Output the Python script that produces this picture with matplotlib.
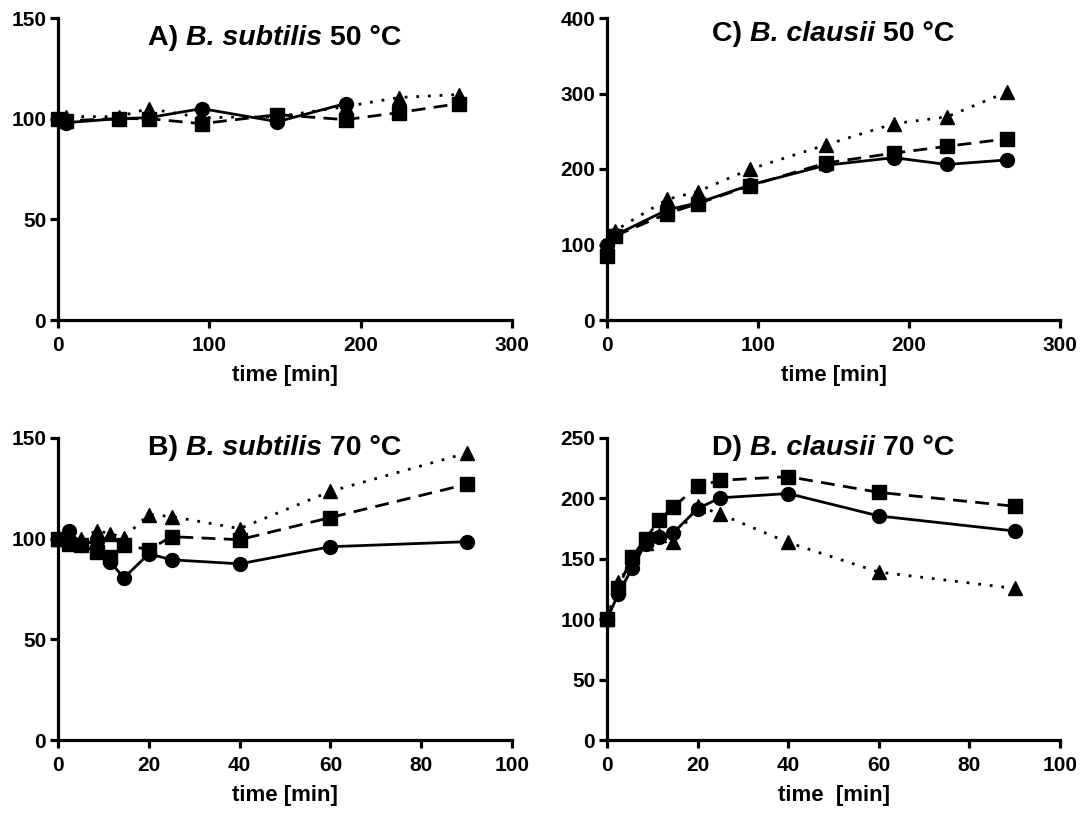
import matplotlib
matplotlib.use("Agg")
import matplotlib.pyplot as plt

plt.rcParams['font.family'] = ['Liberation Sans', 'DejaVu Sans']
plt.rcParams['font.weight'] = 'bold'

# Panel A: B. subtilis 50 °C
t_A = [0, 5, 40, 60, 95, 145, 190, 225, 265]
circ_A = [100, 98, 100, 100.5, 105, 98.5, 107.5]
sq_A = [100, 99, 100, 100, 97.5, 102, 99.5, 103, 107.5]
tri_A = [101, 101, 101, 105, 100.5, 101, 106, 110.5, 112]

# Panel B: B. subtilis 70 °C
t_B = [0, 2.5, 5, 8.5, 11.5, 14.5, 20, 25, 40, 60, 90]
circ_B = [100, 104, 97, 99, 88.5, 80.5, 92.5, 89.5, 87.5, 96, 98.5]
sq_B = [100, 97.5, 96.8, 93.5, 91, 97, 94.5, 101, 99.5, 110.5, 127]
tri_B = [100, 100, 100, 104, 102.5, 100.5, 112, 111, 105, 123.5, 142.5]

# Panel C: B. clausii 50 °C
t_C = [0, 5, 40, 60, 95, 145, 190, 225, 265]
circ_C = [100, 112, 146, 155, 179, 205, 215, 206, 212]
sq_C = [85, 111, 141, 154, 178, 208, 221, 230, 240]
tri_C = [100, 118, 160, 170, 200, 232, 260, 269, 302]

# Panel D: B. clausii 70 °C
t_D = [0, 2.5, 5.5, 8.5, 11.5, 14.5, 20, 25, 40, 60, 90]
circ_D = [100, 121, 142, 162.5, 168, 171, 191.5, 200.5, 204, 185.5, 173]
sq_D = [100, 126, 151.5, 166.5, 182, 192.5, 210, 215, 218, 205, 193.5]
tri_D = [100, 131, 147, 163, 170, 164, 194, 187, 163.5, 139, 125.5]

title_parts = [("A) ", "B. subtilis", " 50 °C"), ("B) ", "B. subtilis", " 70 °C"),
               ("C) ", "B. clausii", " 50 °C"), ("D) ", "B. clausii", " 70 °C")]
xlabels = ["time [min]", "time [min]", "time [min]", "time  [min]"]

fig = plt.figure(figsize=(10.8, 8.14), dpi=100)

L1, R1 = 58 / 1080, 512 / 1080
L2, R2 = 607 / 1080, 1060 / 1080
Bt, Tt = (814 - 320) / 814, (814 - 18) / 814
Bb, Tb = (814 - 740) / 814, (814 - 438) / 814

axA = fig.add_axes([L1, Bt, R1 - L1, Tt - Bt])
axC = fig.add_axes([L2, Bt, R2 - L2, Tt - Bt])
axB = fig.add_axes([L1, Bb, R1 - L1, Tb - Bb])
axD = fig.add_axes([L2, Bb, R2 - L2, Tb - Bb])

panels = [
    (axA, t_A, circ_A, sq_A, tri_A, 300, [0, 100, 200, 300], 150, [0, 50, 100, 150], title_parts[0], xlabels[0], 0.478, 0.911),
    (axB, t_B, circ_B, sq_B, tri_B, 100, [0, 20, 40, 60, 80, 100], 150, [0, 50, 100, 150], title_parts[1], xlabels[1], 0.478, 0.944),
    (axC, t_C, circ_C, sq_C, tri_C, 300, [0, 100, 200, 300], 400, [0, 100, 200, 300, 400], title_parts[2], xlabels[2], 0.5, 0.925),
    (axD, t_D, circ_D, sq_D, tri_D, 100, [0, 20, 40, 60, 80, 100], 250, [0, 50, 100, 150, 200, 250], title_parts[3], xlabels[3], 0.5, 0.944),
]

renderer = fig.canvas.get_renderer()
TFS = 20.5

for ax, t, c, s, tr, xmax, xt, ymax, yt, tparts, xl, tx, ty in panels:
    ax.plot(t[:len(tr)], tr, linestyle=(0, (1, 3.2)), color='black', lw=2.0,
            marker='^', ms=10, clip_on=False, zorder=3)
    ax.plot(t[:len(s)], s, linestyle=(0, (5, 3)), color='black', lw=2.0,
            marker='s', ms=9.5, clip_on=False, zorder=4)
    ax.plot(t[:len(c)], c, linestyle='-', color='black', lw=2.0,
            marker='o', ms=10, clip_on=False, zorder=5)
    ax.set_xlim(0, xmax)
    ax.set_ylim(0, ymax)
    ax.set_xticks(xt)
    ax.set_yticks(yt)
    for sp in ['top', 'right']:
        ax.spines[sp].set_visible(False)
    for sp in ['left', 'bottom']:
        ax.spines[sp].set_linewidth(2.3)
    ax.tick_params(direction='out', length=5.5, width=2.3, labelsize=15)
    ax.tick_params(axis='x', pad=6)
    ax.tick_params(axis='y', pad=3)
    for lab in ax.get_xticklabels() + ax.get_yticklabels():
        lab.set_fontweight('bold')
    ax.set_xlabel(xl, fontsize=16, fontweight='bold', labelpad=7)

    # title built from pieces: upright, bold-italic species, upright
    t1 = ax.text(0.0, ty, tparts[0], transform=ax.transAxes, ha='left',
                 va='baseline', fontsize=TFS, fontweight='bold')
    t2 = ax.annotate(tparts[1], xy=(1, 0), xycoords=t1, ha='left', va='bottom',
                     fontsize=TFS, fontweight='bold', fontstyle='italic')
    t3 = ax.annotate(tparts[2], xy=(1, 0), xycoords=t2, ha='left', va='bottom',
                     fontsize=TFS, fontweight='bold')
    fig.canvas.draw()
    bb1 = t1.get_window_extent(renderer)
    bb3 = t3.get_window_extent(renderer)
    total_w = bb3.x1 - bb1.x0
    axbb = ax.get_window_extent(renderer)
    x_center = axbb.x0 + axbb.width * tx
    x0_px = x_center - total_w / 2
    y_px = axbb.y0 + axbb.height * ty
    inv = ax.transAxes.inverted()
    xa, ya = inv.transform((x0_px, y_px))
    t1.set_position((xa, ya))

fig.savefig("out.png", dpi=100)
